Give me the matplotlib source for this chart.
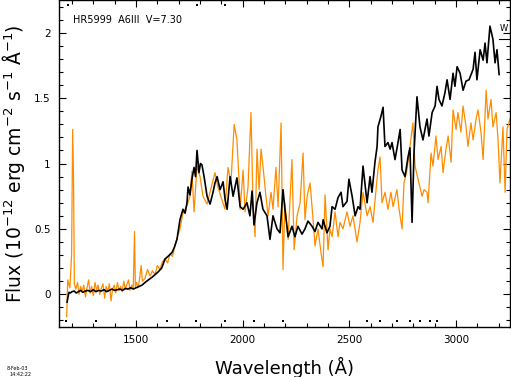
import matplotlib
matplotlib.use('Agg')
import matplotlib.pyplot as plt
from matplotlib.ticker import MultipleLocator

# black spectrum
wl_black = [1177, 1181, 1186, 1192, 1200, 1210, 1220, 1230, 1240, 1250,
            1262, 1275, 1287, 1300, 1312, 1325, 1337, 1350, 1362, 1375,
            1387, 1400, 1412, 1425, 1437, 1450, 1462, 1475, 1487, 1500,
            1514, 1528, 1542, 1558, 1575, 1589, 1603, 1620, 1636, 1650,
            1669, 1680, 1692, 1706, 1720, 1730, 1739, 1744, 1753, 1762,
            1772, 1779, 1786, 1795, 1802, 1809, 1819, 1833, 1847, 1861,
            1870, 1880, 1894, 1908, 1918, 1927, 1941, 1955, 1973, 1988,
            2002, 2020, 2034, 2044, 2053, 2067, 2081, 2095, 2114, 2128,
            2142, 2161, 2175, 2189, 2198, 2213, 2231, 2245, 2259, 2278,
            2292, 2306, 2325, 2339, 2353, 2372, 2377, 2395, 2409, 2419,
            2433, 2447, 2461, 2470, 2489, 2498, 2513, 2527, 2541, 2550,
            2564, 2583, 2597, 2606, 2620, 2630, 2634, 2648, 2658, 2667,
            2681, 2691, 2700, 2714, 2728, 2738, 2747, 2761, 2775, 2784,
            2794, 2803, 2817, 2831, 2845, 2864, 2873, 2888, 2902, 2911,
            2920, 2934, 2948, 2958, 2972, 2986, 2995, 3005, 3019, 3033,
            3047, 3061, 3080, 3089, 3098, 3113, 3127, 3136, 3145, 3159,
            3173, 3183, 3192, 3202]
flux_black = [-0.06, -0.02, 0.015, 0.01, 0.02, 0.025, 0.01, 0.02, 0.03, 0.015,
              0.025, 0.03, 0.02, 0.035, 0.02, 0.03, 0.025, 0.035, 0.02, 0.03,
              0.04, 0.03, 0.035, 0.04, 0.03, 0.045, 0.04, 0.05, 0.04, 0.05,
              0.06, 0.07, 0.09, 0.11, 0.13, 0.15, 0.17, 0.20, 0.27, 0.29,
              0.32, 0.36, 0.42, 0.57, 0.65, 0.62, 0.70, 0.82, 0.76, 0.88,
              0.97, 0.90, 1.10, 0.93, 1.00, 0.99, 0.90, 0.75, 0.69, 0.78,
              0.85, 0.90, 0.80, 0.86, 0.72, 0.65, 0.90, 0.75, 0.89, 0.67,
              0.65, 0.70, 0.60, 0.79, 0.53, 0.70, 0.78, 0.65, 0.60, 0.42,
              0.60, 0.50, 0.47, 0.80, 0.65, 0.44, 0.52, 0.44, 0.52, 0.46,
              0.50, 0.56, 0.52, 0.48, 0.55, 0.50, 0.57, 0.47, 0.52, 0.67,
              0.65, 0.74, 0.78, 0.67, 0.71, 0.88, 0.75, 0.60, 0.67, 0.65,
              0.98, 0.70, 0.90, 0.78, 1.01, 1.13, 1.28, 1.36, 1.43, 1.13,
              1.16, 1.11, 1.16, 1.03, 1.16, 1.26, 0.95, 0.90, 1.05, 1.12,
              0.55, 1.08, 1.51, 1.28, 1.18, 1.34, 1.21, 1.39, 1.44, 1.59,
              1.49, 1.44, 1.54, 1.64, 1.49, 1.69, 1.59, 1.74, 1.69, 1.56,
              1.63, 1.64, 1.72, 1.85, 1.64, 1.87, 1.79, 1.92, 1.77, 2.05,
              1.95, 1.77, 1.87, 1.68]

# orange spectrum
wl_orange = [1175, 1180, 1190, 1198, 1203, 1207, 1211, 1218, 1226, 1233,
             1240, 1248, 1255, 1263, 1270, 1278, 1285, 1292, 1300, 1308,
             1315, 1322, 1330, 1338, 1345, 1353, 1360, 1368, 1375, 1383,
             1390, 1398, 1405, 1413, 1420, 1428, 1435, 1443, 1450, 1458,
             1465, 1472, 1480, 1487, 1493, 1497, 1503, 1510, 1517, 1524,
             1530, 1542, 1554, 1566, 1577, 1589, 1600, 1612, 1624, 1636,
             1648, 1659, 1671, 1683, 1694, 1706, 1720, 1739, 1753, 1762,
             1772, 1786, 1800, 1814, 1833, 1847, 1870, 1884, 1903, 1917,
             1931, 1945, 1960, 1973, 1983, 1988, 2002, 2011, 2025, 2039,
             2048, 2058, 2067, 2077, 2086, 2095, 2109, 2119, 2133, 2142,
             2156, 2166, 2180, 2189, 2198, 2213, 2231, 2241, 2255, 2269,
             2283, 2292, 2302, 2316, 2330, 2339, 2353, 2367, 2377, 2386,
             2400, 2409, 2419, 2433, 2447, 2456, 2470, 2489, 2503, 2517,
             2536, 2550, 2564, 2583, 2597, 2611, 2625, 2634, 2644, 2653,
             2667, 2681, 2695, 2705, 2723, 2733, 2747, 2756, 2770, 2784,
             2798, 2808, 2822, 2841, 2850, 2864, 2869, 2883, 2892, 2906,
             2916, 2930, 2939, 2953, 2963, 2977, 2986, 3000, 3009, 3023,
             3033, 3047, 3056, 3070, 3080, 3094, 3103, 3117, 3127, 3141,
             3150, 3164, 3173, 3188, 3197, 3206, 3220, 3230, 3239, 3253]
flux_orange = [-0.17, 0.11, 0.05, 0.30, 1.26, 0.90, 0.08, 0.04, 0.09, 0.00,
               0.06, 0.02, 0.07, -0.02, 0.05, 0.11, 0.01, 0.06, -0.01, 0.09,
               0.03, 0.07, 0.00, 0.05, 0.08, -0.03, 0.06, 0.02, 0.08, -0.05,
               0.04, 0.07, 0.01, 0.09, 0.03, 0.06, 0.02, 0.10, 0.04, 0.08,
               0.11, 0.03, 0.07, 0.05, 0.48, 0.06, 0.09, 0.05, 0.12, 0.22,
               0.10, 0.12, 0.19, 0.14, 0.18, 0.15, 0.22, 0.19, 0.25, 0.27,
               0.24, 0.31, 0.29, 0.38, 0.44, 0.50, 0.62, 0.68, 0.75, 0.94,
               0.63, 0.98, 0.90, 0.75, 0.69, 0.78, 0.93, 0.82, 0.72, 0.65,
               0.97, 0.85, 1.30, 1.18, 0.87, 0.65, 0.95, 0.63, 0.82, 1.39,
               0.72, 0.44, 1.11, 0.80, 1.11, 0.98, 0.75, 0.60, 0.78, 0.65,
               0.97, 0.67, 1.31, 0.19, 0.70, 0.42, 1.03, 0.34, 0.60, 0.70,
               1.08, 0.57, 0.75, 0.85, 0.57, 0.37, 0.50, 0.32, 0.21, 0.76,
               0.34, 0.50, 0.44, 0.63, 0.44, 0.55, 0.50, 0.63, 0.52, 0.60,
               0.40, 0.55, 0.78, 0.60, 0.67, 0.55, 0.80, 0.95, 1.05, 0.70,
               0.78, 0.65, 0.78, 0.67, 0.80, 0.65, 0.50, 0.85, 0.95, 1.13,
               1.31, 0.98, 0.88, 0.75, 0.80, 0.78, 0.70, 1.08, 0.98, 1.21,
               1.03, 1.13, 0.93, 1.11, 1.21, 1.01, 1.41, 1.26, 1.39, 1.24,
               1.44, 1.28, 1.13, 1.31, 1.18, 1.34, 1.41, 1.24, 1.03, 1.56,
               1.34, 1.49, 1.28, 1.39, 1.18, 0.85, 1.28, 0.78, 1.26, 1.34]

# quality flags along the bottom and top edges
flag_bottom = [1172, 1312, 1645, 1781, 1917, 2053, 2189, 2583, 2644, 2723,
               2784, 2831, 2878, 2911]
flag_top = [1181, 1786, 1917]

assert len(wl_black) == len(flux_black)
assert len(wl_orange) == len(flux_orange)

fig = plt.figure(figsize=(5.11, 3.77), dpi=100)
ax = fig.add_axes([59/511, 1 - 327/377, 451/511, 327/377])

ax.plot(wl_orange, flux_orange, color='#ff8c00', lw=0.9)
ax.plot(wl_black, flux_black, color='black', lw=1.2)

ax.scatter(flag_bottom, [-0.205] * len(flag_bottom), marker='s', s=2, color='black', lw=0)
ax.scatter(flag_top, [2.21] * len(flag_top), marker='s', s=2, color='black', lw=0)

ax.set_xlim(1139, 3253)
ax.set_ylim(-0.25, 2.25)
ax.xaxis.set_major_locator(MultipleLocator(500))
ax.xaxis.set_minor_locator(MultipleLocator(100))
ax.yaxis.set_major_locator(MultipleLocator(0.5))
ax.yaxis.set_minor_locator(MultipleLocator(0.1))
ax.tick_params(which='both', direction='in', top=True, right=True, labelsize=7.5, width=0.8)
ax.tick_params(which='major', length=5, pad=6)
ax.tick_params(which='minor', length=3)
ax.set_yticks([0, 0.5, 1, 1.5, 2])
ax.set_yticklabels(['0', '0.5', '1', '1.5', '2'])
for s in ax.spines.values():
    s.set_linewidth(1.0)

ax.set_xlabel('Wavelength (Å)', fontsize=13, labelpad=8)
ax.set_ylabel('Flux (10$^{-12}$ erg cm$^{-2}$ s$^{-1}$ Å$^{-1}$)', fontsize=13.5, labelpad=5)

ax.text(0.031, 0.939, 'HR5999  A6III  V=7.30', transform=ax.transAxes, fontsize=7, va='center')
ax.text(3205, 2.03, 'W', fontsize=6, va='center', clip_on=True)
ax.plot([3202, 3253], [1.95, 1.95], color='black', lw=0.8)

fig.text(7/511, 1 - 370/377, '8-Feb-03', fontsize=3.5)
fig.text(9/511, 1 - 376/377, '14:42:22', fontsize=3.5)

fig.savefig('out.png', dpi=100)
